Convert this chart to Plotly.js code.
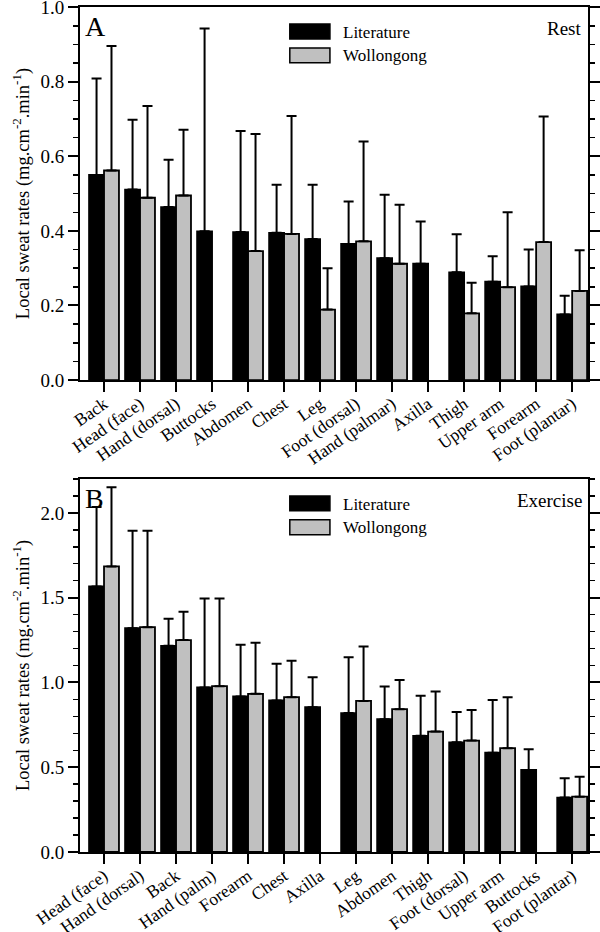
<!DOCTYPE html>
<html>
<head>
<meta charset="utf-8">
<script src="https://cdn.plot.ly/plotly-3.0.1.min.js"></script>
<style>
  html, body { margin: 0; padding: 0; background: #fff; }
  #chart { width: 600px; height: 932px; }
</style>
</head>
<body>
<div id="chart"></div>
<script>
// Panel A: rest
const restSites = ['Back', 'Head (face)', 'Hand (dorsal)', 'Buttocks', 'Abdomen', 'Chest', 'Leg',
    'Foot (dorsal)', 'Hand (palmar)', 'Axilla', 'Thigh', 'Upper arm', 'Forearm', 'Foot (plantar)'];
const restLit = [0.550, 0.511, 0.464, 0.399, 0.397, 0.395, 0.378, 0.365, 0.327, 0.312, 0.289, 0.264, 0.251, 0.176];
const restLitSD = [0.259, 0.187, 0.127, 0.544, 0.271, 0.129, 0.146, 0.114, 0.170, 0.113, 0.102, 0.068, 0.099, 0.050];
const restWol = [0.562, 0.489, 0.495, null, 0.346, 0.392, 0.189, 0.372, 0.312, null, 0.179, 0.249, 0.370, 0.239];
const restWolSD = [0.334, 0.246, 0.176, null, 0.314, 0.316, 0.111, 0.268, 0.158, null, 0.082, 0.201, 0.337, 0.109];

// Panel B: exercise
const exSites = ['Head (face)', 'Hand (dorsal)', 'Back', 'Hand (palm)', 'Forearm', 'Chest', 'Axilla',
    'Leg', 'Abdomen', 'Thigh', 'Foot (dorsal)', 'Upper arm', 'Buttocks', 'Foot (plantar)'];
const exLit = [1.566, 1.320, 1.216, 0.970, 0.917, 0.894, 0.854, 0.819, 0.783, 0.685, 0.647, 0.586, 0.484, 0.321];
const exLitSD = [0.469, 0.575, 0.159, 0.525, 0.305, 0.216, 0.177, 0.330, 0.193, 0.236, 0.179, 0.311, 0.122, 0.114];
const exWol = [1.684, 1.326, 1.250, 0.978, 0.933, 0.913, null, 0.891, 0.842, 0.710, 0.657, 0.612, null, 0.326];
const exWolSD = [0.467, 0.569, 0.167, 0.517, 0.301, 0.215, null, 0.321, 0.173, 0.236, 0.181, 0.301, null, 0.118];

const FONT = 'Liberation Serif';
const LIT_COLOR = '#000000';
const WOL_COLOR = '#c0c0c0';

function barTrace(name, cats, vals, sd, color, xa, ya) {
    return {
        type: 'bar',
        name: name,
        x: cats,
        y: vals,
        xaxis: xa,
        yaxis: ya,
        marker: { color: color, line: { color: '#000', width: 1.8 } },
        error_y: {
            type: 'data',
            symmetric: false,
            array: sd,
            arrayminus: sd.map(() => 0),
            color: '#000',
            thickness: 2,
            width: 5
        },
        showlegend: false,
        hoverinfo: 'x+y'
    };
}

const traces = [
    barTrace('Literature', restSites, restLit, restLitSD, LIT_COLOR, 'x', 'y'),
    barTrace('Wollongong', restSites, restWol, restWolSD, WOL_COLOR, 'x', 'y'),
    barTrace('Literature', exSites, exLit, exLitSD, LIT_COLOR, 'x2', 'y2'),
    barTrace('Wollongong', exSites, exWol, exWolSD, WOL_COLOR, 'x2', 'y2')
];

const xCommon = {
    type: 'category',
    range: [-0.667, 13.44],
    showline: true,
    linecolor: '#000',
    linewidth: 2,
    mirror: true,
    ticks: 'outside',
    ticklen: 10,
    tickwidth: 2,
    tickcolor: '#000',
    tickangle: -35,
    ticklabelstandoff: -5,
    ticklabeloverflow: 'allow',
    tickfont: { family: FONT, size: 17.5, color: '#000' },
    showgrid: false,
    zeroline: false,
    fixedrange: true
};

const yCommon = {
    showline: true,
    linecolor: '#000',
    linewidth: 2,
    mirror: 'ticks',
    ticks: 'outside',
    ticklen: 10,
    tickwidth: 2,
    tickcolor: '#000',
    ticklabeloverflow: 'allow',
    tickfont: { family: FONT, size: 19, color: '#000' },
    showgrid: false,
    zeroline: false,
    title: {
        text: 'Local sweat rates (mg.cm<sup>-2</sup>.min<sup>-1</sup>)',
        font: { family: FONT, size: 18.5, color: '#000' },
        standoff: 6
    },
    fixedrange: true
};

// legend swatches + panel labels, placed relative to each plot area
function panelDecor(xd, yd, letter, label) {
    const shapes = [
        { type: 'rect', xref: xd, yref: yd, x0: 0.413, x1: 0.492, y0: 0.9144, y1: 0.9545,
          fillcolor: LIT_COLOR, line: { color: '#000', width: 1.5 } },
        { type: 'rect', xref: xd, yref: yd, x0: 0.413, x1: 0.492, y0: 0.8503, y1: 0.8904,
          fillcolor: WOL_COLOR, line: { color: '#000', width: 1.5 } }
    ];
    const txt = (text, x, y, size, xanchor) => ({
        text: text, xref: xd, yref: yd, x: x, y: y, showarrow: false,
        xanchor: xanchor, yanchor: 'middle', font: { family: FONT, size: size, color: '#000' }
    });
    const annotations = [
        txt('Literature', 0.514, 0.931, 17, 'left'),
        txt('Wollongong', 0.514, 0.869, 17, 'left'),
        txt(letter, 0.006, 0.948, 28, 'left'),
        txt(label, 0.992, 0.942, 19, 'right')
    ];
    return { shapes, annotations };
}

const decA = panelDecor('x domain', 'y domain', 'A', 'Rest');
const decB = panelDecor('x2 domain', 'y2 domain', 'B', 'Exercise');

const layout = {
    width: 600,
    height: 932,
    margin: { l: 80, r: 12, t: 7, b: 80 },
    paper_bgcolor: '#fff',
    plot_bgcolor: '#fff',
    font: { family: FONT, color: '#000' },
    barmode: 'group',
    bargap: 0.17,
    bargroupgap: 0,
    showlegend: false,
    xaxis: { ...xCommon, anchor: 'y' },
    yaxis: { ...yCommon, domain: [0.5585, 1], range: [0, 1.0005], dtick: 0.2, tickformat: '.1f',
             minor: { dtick: 0.05, ticks: 'outside', ticklen: 5, tickwidth: 1.5, tickcolor: '#000' }, anchor: 'x' },
    xaxis2: { ...xCommon, anchor: 'y2' },
    yaxis2: { ...yCommon, domain: [0, 0.4415], range: [0, 2.2], dtick: 0.5, tickformat: '.1f',
              minor: { dtick: 0.1, ticks: 'outside', ticklen: 5, tickwidth: 1.5, tickcolor: '#000' }, anchor: 'x2' },
    shapes: [...decA.shapes, ...decB.shapes],
    annotations: [...decA.annotations, ...decB.annotations]
};

Plotly.newPlot('chart', traces, layout, { displayModeBar: false, staticPlot: true });
</script>
</body>
</html>
